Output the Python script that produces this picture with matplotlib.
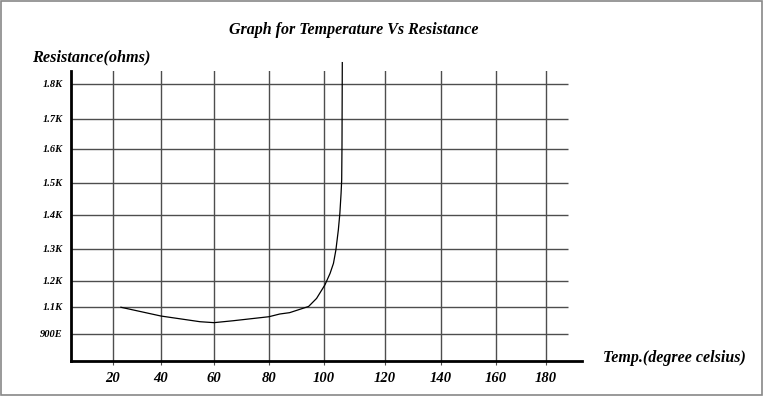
import numpy as np
import matplotlib.pyplot as plt
from matplotlib.patches import Rectangle

# data
temp = [23.3, 40, 54.7, 60, 66.9, 80, 83.9, 87.5, 94.4, 97.3, 100.3, 102.0,
        103.1, 103.9, 104.7, 105.2, 105.6, 105.8, 105.9, 106.0]
ohms = [1098, 1033, 991, 984, 998, 1028, 1048, 1058, 1102, 1133, 1185, 1224,
        1255, 1297, 1356, 1405, 1468, 1509, 1613, 1861]

x_ticks = [20, 40, 60, 80, 100, 120, 140, 160, 180]
y_ticks = [900, 1100, 1200, 1300, 1400, 1500, 1600, 1700, 1800]
y_labels = ['900E', '1.1K', '1.2K', '1.3K', '1.4K', '1.5K', '1.6K', '1.7K', '1.8K']

# the hand-drawn grid is not evenly spaced: piecewise-linear scales
x_anchor_val = [0] + x_ticks + [200]
x_anchor_pos = [65, 113, 161, 214, 269, 324, 385, 441, 496, 546, 596]
y_anchor_val = [800] + y_ticks + [1900]
y_anchor_pos = [35, 62, 89, 115, 147, 181, 213, 247, 277, 312, 347]


def fx(v):
    return np.interp(v, x_anchor_val, x_anchor_pos)


def fx_inv(p):
    return np.interp(p, x_anchor_pos, x_anchor_val)


def fy(v):
    return np.interp(v, y_anchor_val, y_anchor_pos)


def fy_inv(p):
    return np.interp(p, y_anchor_pos, y_anchor_val)


serif = 'Liberation Serif'
grid_col = '#4d4d4d'

fig = plt.figure(figsize=(7.64, 3.96), dpi=100)
ax = fig.add_axes([71 / 764, 35 / 396, 511 / 764, 290 / 396])

ax.set_xscale('function', functions=(fx, fx_inv))
ax.set_yscale('function', functions=(fy, fy_inv))
ax.set_xlim(2.5, 194.4)
ax.set_ylim(800, 1837)

# grid
ax.set_xticks(x_ticks)
ax.grid(axis='x', color=grid_col, linewidth=1.0)
ax.hlines(y_ticks, 2.5, 188.8, color=grid_col, linewidth=1.0, zorder=1)

# curve
ax.plot(temp, ohms, color='black', linewidth=0.9, clip_on=False, zorder=3)

ax.set_yticks(y_ticks)
ax.set_yticklabels(y_labels, fontfamily=serif, fontweight='bold',
                   fontstyle='italic', fontsize=7.5)
ax.set_xticklabels([str(t) for t in x_ticks], fontfamily=serif,
                   fontweight='bold', fontstyle='italic', fontsize=10.5)
ax.tick_params(axis='x', direction='out', length=3, color=grid_col, pad=5)
ax.tick_params(axis='y', length=0, pad=6)

for s in ['top', 'right']:
    ax.spines[s].set_visible(False)
for s in ['left', 'bottom']:
    ax.spines[s].set_linewidth(2)
    ax.spines[s].set_color('black')

fig.text(354 / 764, 1 - 30 / 396, 'Graph for Temperature Vs Resistance',
         ha='center', va='center', fontfamily=serif, fontweight='bold',
         fontstyle='italic', fontsize=11.5)
fig.text(32 / 764, 1 - 57 / 396, 'Resistance(ohms)', ha='left', va='center',
         fontfamily=serif, fontweight='bold', fontstyle='italic', fontsize=11.7)
fig.text(603 / 764, 1 - 358 / 396, 'Temp.(degree celsius)', ha='left',
         va='center', fontfamily=serif, fontweight='bold', fontstyle='italic',
         fontsize=11.5)

# grey frame round the picture
fig.patches.append(Rectangle((0.001, 0.003), 0.996, 0.994,
                             transform=fig.transFigure, fill=False,
                             edgecolor='#888888', linewidth=1.2))

fig.savefig('out.png', dpi=100)
